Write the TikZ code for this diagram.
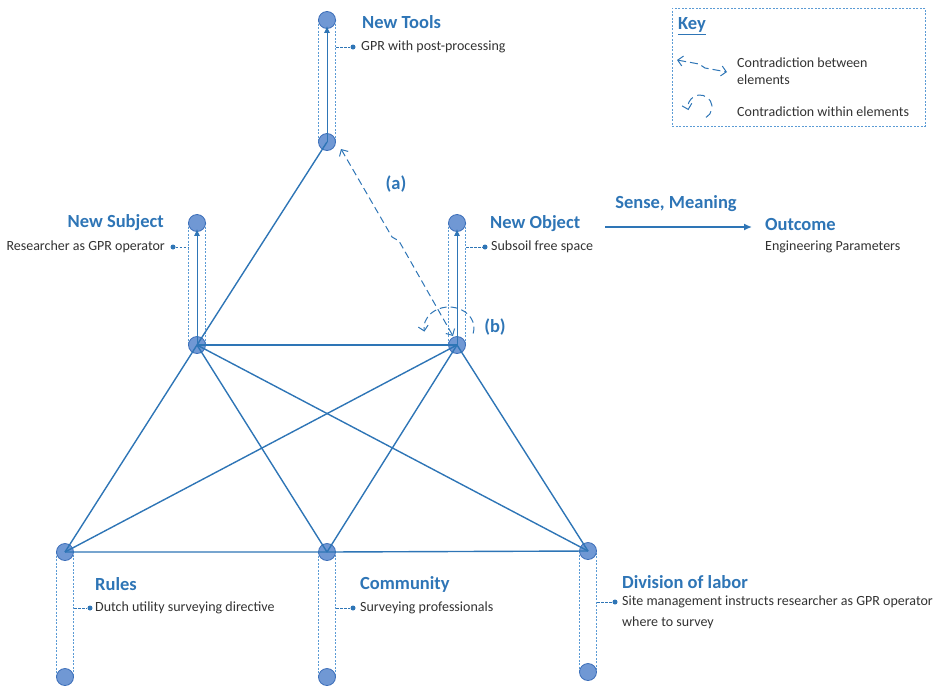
\documentclass[tikz,border=0pt]{standalone}
\usepackage{fontspec}
\setmainfont{Carlito}
\usetikzlibrary{arrows.meta,calc}
\definecolor{lineblue}{RGB}{46,117,182}
\definecolor{lightblue}{RGB}{91,155,213}
\definecolor{dotfill}{RGB}{112,152,212}
\definecolor{dotdraw}{RGB}{60,110,185}
\definecolor{txt}{RGB}{50,50,50}
\begin{document}
\begin{tikzpicture}[x=1pt,y=-1pt,
 dot/.style={circle,fill=dotfill,draw=dotdraw,line width=0.8pt,minimum size=17pt,inner sep=0pt},
 conn/.style={draw=lineblue,line width=1.4pt},
 capsule/.style={draw=lightblue,line width=0.8pt,dash pattern=on 2pt off 1.5pt},
 title/.style={font=\fontsize{18.5}{22}\selectfont\bfseries,text=lineblue,inner sep=0pt},
 body/.style={font=\fontsize{14}{20}\selectfont,text=txt,inner sep=0pt},
 tick/.style={draw=lineblue,line width=0.8pt,dash pattern=on 2.5pt off 1.5pt},
 bullet/.style={circle,fill=lineblue,minimum size=5pt,inner sep=0pt},
 uparrow/.style={draw=lineblue,line width=1pt,-{Latex[length=7pt,width=6pt]}},
 contra/.style={draw=lineblue,line width=1pt,dash pattern=on 7pt off 4pt},
 barbtip/.tip={Straight Barb[length=5pt,width=10pt]}
]
\useasboundingbox (0,0) rectangle (933,686);
% positions
\coordinate (T1) at (327,20);  \coordinate (T0) at (327,142);
\coordinate (S1) at (197,223); \coordinate (S0) at (197,345);
\coordinate (O1) at (457,223); \coordinate (O0) at (457,345);
\coordinate (R0) at (65,552);  \coordinate (R1) at (65,677);
\coordinate (C0) at (327,552); \coordinate (C1) at (327,677);
\coordinate (D0) at (588,551); \coordinate (D1) at (588,672);
% capsules
\foreach \a/\b in {T1/T0,S1/S0,O1/O0,R0/R1,C0/C1,D0/D1}
  \draw[capsule] ($(\a)+(-8.5,0)$) rectangle ($(\b)+(8.5,0)$);
% circles
\node[dot] (t1) at (T1) {}; \node[dot] (t0) at (T0) {};
\node[dot] (s1) at (S1) {}; \node[dot] (s0) at (S0) {};
\node[dot] (o1) at (O1) {}; \node[dot] (o0) at (O0) {};
\node[dot] (r0) at (R0) {}; \node[dot] (r1) at (R1) {};
\node[dot] (c0) at (C0) {}; \node[dot] (c1) at (C1) {};
\node[dot] (d0) at (D0) {}; \node[dot] (d1) at (D1) {};
% main connectors
\draw[conn] (t0.center) -- (s0.center);
\draw[conn] (s0.center) -- (o0.center);
\draw[conn] (s0.center) -- (r0.center);
\draw[conn] (s0.center) -- (c0.center);
\draw[conn] (s0.center) -- (d0.center);
\draw[conn] (o0.center) -- (r0.center);
\draw[conn] (o0.center) -- (c0.center);
\draw[conn] (o0.center) -- (d0.center);
\draw[conn] (r0.center) -- (c0.center) -- (d0.center);
% vertical arrows
\draw[uparrow] (t0.center) -- ([yshift=3pt]t1.south);
\draw[uparrow] (s0.center) -- ([yshift=3pt]s1.south);
\draw[uparrow] (o0.center) -- ([yshift=3pt]o1.south);
% labels: tools
\node[bullet] (tb) at (353,47) {};
\draw[tick] (336,47) -- (tb);
\node[title,anchor=west] (tt) at (362,22) {New Tools};
\node[body,anchor=west] (tx) at (361,47) {GPR with post-processing};
% subject
\node[bullet] (sb) at (173,247) {};
\draw[tick] (sb) -- (188,247);
\node[title,anchor=east] (st) at (164,223) {New Subject};
\node[body,anchor=east] (sx) at (165,247) {Researcher as GPR operator};
% object
\node[bullet] (ob) at (485,247) {};
\draw[tick] (466,247) -- (ob);
\node[title,anchor=west] (ot) at (490,224) {New Object};
\node[body,anchor=west] (ox) at (491,247) {Subsoil free space};
% outcome
\coordinate (oa) at (605,227); \coordinate (ob2) at (752,227);
\draw[draw=lineblue,line width=1.4pt,-{Latex[length=8pt,width=7pt]}] (oa) -- (ob2);
\node[title] (sm) at (676,204) {Sense, Meaning};
\node[title,anchor=west] (out) at (765,224) {Outcome};
\node[body,anchor=west] (outx) at (765,247) {Engineering Parameters};
% rules
\node[bullet] (rb) at (90,608) {};
\draw[tick] (74,608) -- (rb);
\node[title,anchor=west] (rt) at (95,584) {Rules};
\node[body,anchor=west] (rx) at (95,608) {Dutch utility surveying directive};
% community
\node[bullet] (cb) at (353,608) {};
\draw[tick] (336,608) -- (cb);
\node[title,anchor=west] (ct) at (360,584) {Community};
\node[body,anchor=west] (cx) at (360,608) {Surveying professionals};
% division
\node[bullet] (db) at (615,602) {};
\draw[tick] (597,602) -- (db);
\node[title,anchor=west] (dt) at (622,582) {Division of labor};
\node[body,anchor=west] (dx) at (622,602) {Site management instructs researcher as GPR operator};
\node[body,anchor=west] (dx2) at (622,623) {where to survey};
% contradiction (a)
\draw[contra,barbtip-barbtip] ($(t0.center)+(14,7)$) -- (392,237) -- (399,241) -- ($(o0.center)+(-4,-9)$);
\node[title] (la) at (396,184) {(a)};
% contradiction (b)
\draw[contra,-barbtip] (449,328) ++(15:25 and 21) arc[start angle=15,end angle=-190,x radius=25,y radius=21];
\node[title] (lb) at (495,327) {(b)};
% key
\node[capsule,anchor=north west,minimum width=253pt,minimum height=118pt,inner sep=0pt] (key) at (672,8) {};
\node[title,anchor=west] (kt) at (678,26) {\underline{Key}};
\draw[draw=lineblue,line width=1pt,dash pattern=on 8pt off 4pt,barbtip-barbtip] (677,60) -- (699,64) -- (705,68) -- (727,72);
\node[body,anchor=west,align=left] (k1) at (737,71) {Contradiction between\\[-3pt]elements};
\draw[draw=lineblue,line width=1pt,dash pattern=on 8pt off 5pt,-barbtip] (700,107) ++(60:12) arc[start angle=60,end angle=-195,radius=12];
\node[body,anchor=west] (k2) at (737,112) {Contradiction within elements};
\end{tikzpicture}
\end{document}
